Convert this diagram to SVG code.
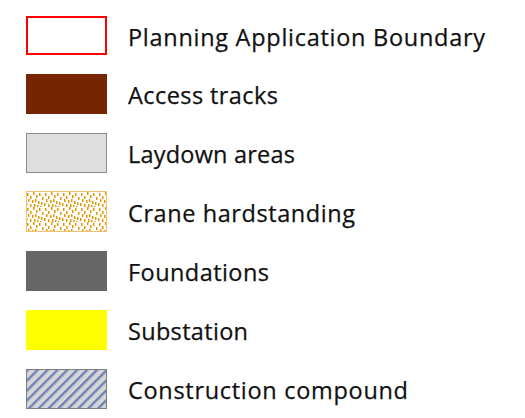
<svg xmlns="http://www.w3.org/2000/svg" width="525" height="418" viewBox="0 0 525 418">
<style>
.lbl{font-family:"Open Sans","Liberation Sans",sans-serif;font-size:23.5px;fill:#111;stroke:#111;stroke-width:0.25}
</style>
<defs>
<pattern id="dots" width="18" height="15" patternUnits="userSpaceOnUse" x="26" y="192">
<rect width="18" height="15" fill="#fff"/>
<g fill="#e39a00">
<rect x="1" y="1" width="1.5" height="3"/><rect x="4" y="4" width="1.5" height="3"/><rect x="7" y="0" width="1.5" height="3"/><rect x="10" y="3" width="1.5" height="3"/><rect x="13" y="1" width="1.5" height="3"/><rect x="16" y="5" width="1.5" height="3"/>
<rect x="2" y="7" width="1.5" height="3"/><rect x="6" y="8" width="1.5" height="3"/><rect x="9" y="7" width="1.5" height="3"/><rect x="12" y="9" width="1.5" height="3"/><rect x="15" y="10" width="1.5" height="3"/>
<rect x="0" y="11" width="1.5" height="3"/><rect x="4" y="12" width="1.5" height="3"/><rect x="8" y="12" width="1.5" height="3"/><rect x="11" y="13" width="1.5" height="2"/><rect x="14" y="14" width="1.5" height="1"/>
</g>
</pattern>
<pattern id="hatch" width="7" height="7" patternUnits="userSpaceOnUse" patternTransform="rotate(-45)">
<rect width="7" height="7" fill="#d6d6d6"/>
<rect x="0" y="0" width="7" height="2.4" fill="#6f82b8"/>
</pattern>
</defs>
<g id="boundary"><rect x="27" y="17" width="79" height="37" fill="#fff" stroke="#f00" stroke-width="2"/><text class="lbl" x="128" y="45.5" textLength="357">Planning Application Boundary</text></g>
<g id="access"><rect x="26" y="74" width="81" height="40" fill="#772500"/><text class="lbl" x="128" y="104" textLength="150">Access tracks</text></g>
<g id="laydown"><rect x="26.5" y="133.5" width="80" height="39" fill="#dedede" stroke="#8a8a8a" stroke-width="1"/><text class="lbl" x="128" y="163" textLength="167">Laydown areas</text></g>
<g id="crane"><rect x="26.5" y="191.5" width="80" height="40" fill="url(#dots)" stroke="#f0c070" stroke-width="1"/><text class="lbl" x="128" y="222" textLength="227">Crane hardstanding</text></g>
<g id="foundations"><rect x="26" y="251" width="81" height="40" fill="#666"/><text class="lbl" x="128" y="281" textLength="141">Foundations</text></g>
<g id="substation"><rect x="26" y="310" width="81" height="40" fill="#ff0"/><text class="lbl" x="128" y="340" textLength="120">Substation</text></g>
<g id="compound"><rect x="26.5" y="369.5" width="80" height="39" fill="url(#hatch)" stroke="#7f7f7f" stroke-width="1"/><text class="lbl" x="128" y="399" textLength="280">Construction compound</text></g>
<g id="connectors"/>
</svg>
